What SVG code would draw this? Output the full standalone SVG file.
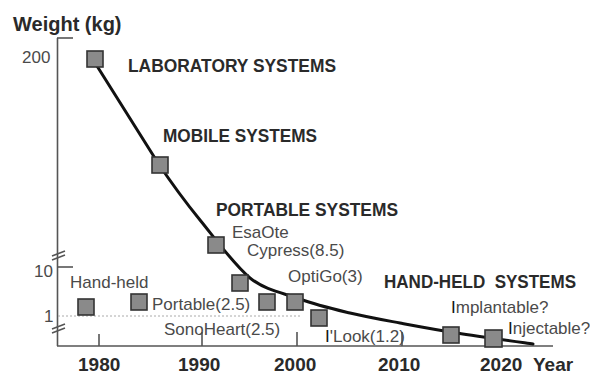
<svg xmlns="http://www.w3.org/2000/svg" width="590" height="374" viewBox="0 0 590 374">
<style>
.ax{stroke:#555;stroke-width:1.6;fill:none}
.tk{stroke:#555;stroke-width:1.6;fill:none}
.dot{stroke:#aaa;stroke-width:1;stroke-dasharray:2 2;fill:none}
.curve{stroke:#111;stroke-width:3;fill:none;stroke-linecap:round}
.sq{fill:#8a8a8a;stroke:#333;stroke-width:1.6}
.b{font-family:"Liberation Sans",Arial,sans-serif;font-weight:bold;fill:#2a2a2a}
.n{font-family:"Liberation Sans",Arial,sans-serif;font-size:17px;fill:#4a4a4a}
.yr{font-family:"Liberation Sans",Arial,sans-serif;font-weight:bold;font-size:19px;fill:#2a2a2a}
</style>
<rect width="590" height="374" fill="#fff"/>
<g id="axes">
<line class="ax" x1="57.5" y1="38" x2="57.5" y2="346"/>
<line class="ax" x1="57" y1="346" x2="553" y2="346"/>
<line class="tk" x1="57" y1="38" x2="73" y2="38"/>
<line class="tk" x1="57" y1="267" x2="73" y2="267"/>
<path class="tk" d="M52 256 L65 251 M52 260 L65 255 M52 329 L65 324 M52 333 L65 328"/>
<line class="dot" x1="58" y1="316" x2="302" y2="316"/>
<line class="tk" x1="99" y1="334" x2="99" y2="346"/>
<line class="tk" x1="202" y1="332" x2="202" y2="346"/>
<line class="tk" x1="297" y1="332" x2="297" y2="346"/>
<line class="tk" x1="402" y1="332" x2="402" y2="346"/>
<text class="b" x="13" y="31" font-size="20">Weight (kg)</text>
<text class="n" x="22" y="63" font-size="18" fill="#444">200</text>
<text class="n" x="34" y="277" font-size="18" fill="#444">10</text>
<text class="n" x="44" y="322" font-size="18" fill="#444">1</text>
<text class="yr" x="78" y="371">1980</text>
<text class="yr" x="178" y="371">1990</text>
<text class="yr" x="274" y="371">2000</text>
<text class="yr" x="378" y="371">2010</text>
<text class="yr" x="480" y="371">2020</text>
<text class="yr" x="533" y="371">Year</text>
</g>
<g id="connectors">
<path class="curve" d="M97 66 L158 163 C175.2 188.7 184.7 201.2 200 220 C215.3 238.8 233.3 263.8 250 278 C266.7 291.2 283.3 292.8 300 299 C316.7 305.2 333.3 309 350 313 C366.7 317 382.2 319.7 400 323 C417.8 326.3 434.8 329.5 457 333 C479.2 336.5 520.3 342.2 533 344"/>
</g>
<g id="labels">
<text class="b" x="128" y="72" font-size="18" textLength="208" lengthAdjust="spacingAndGlyphs">LABORATORY SYSTEMS</text>
<text class="b" x="163" y="142" font-size="18" textLength="154" lengthAdjust="spacingAndGlyphs">MOBILE SYSTEMS</text>
<text class="b" x="216" y="216" font-size="18" textLength="182" lengthAdjust="spacingAndGlyphs">PORTABLE SYSTEMS</text>
<text class="b" x="384" y="288" font-size="18" textLength="192" lengthAdjust="spacingAndGlyphs" xml:space="preserve">HAND-HELD  SYSTEMS</text>
</g>
<g id="n-lab"><rect class="sq" x="87" y="51" width="16" height="16"/></g>
<g id="n-mobile"><rect class="sq" x="152" y="157" width="16" height="16"/></g>
<g id="n-esaote"><rect class="sq" x="208" y="237" width="16" height="16"/><text class="n" x="232" y="238">EsaOte</text></g>
<g id="n-cypress"><rect class="sq" x="232" y="275" width="16" height="16"/><text class="n" x="247" y="256">Cypress(8.5)</text></g>
<g id="n-portable"><rect class="sq" x="259" y="294" width="16" height="16"/><text class="n" x="152" y="310">Portable(2.5)</text></g>
<g id="n-optigo"><rect class="sq" x="287" y="294" width="16" height="16"/><text class="n" x="288" y="282">OptiGo(3)</text></g>
<g id="n-ilook"><rect class="sq" x="311" y="310" width="16" height="16"/><text class="n" x="325" y="342"><tspan fill="#111">I</tspan>'Look(1.2)</text></g>
<g id="n-handheld"><rect class="sq" x="78" y="299" width="16" height="16"/><text class="n" x="70" y="288">Hand-held</text></g>
<g id="n-portable2"><rect class="sq" x="131" y="294" width="16" height="16"/></g>
<g id="n-sonoheart"><text class="n" x="164" y="335">SonoHeart(2.5)</text></g>
<g id="n-implantable"><rect class="sq" x="443" y="327" width="16" height="16"/><text class="n" x="451" y="313" font-size="16.5"><tspan fill="#111">I</tspan>mplantable?</text></g>
<g id="n-injectable"><rect class="sq" x="485" y="330" width="17" height="17"/><text class="n" x="508" y="334" font-size="16.5"><tspan fill="#111">I</tspan>njectable?</text></g>
</svg>
